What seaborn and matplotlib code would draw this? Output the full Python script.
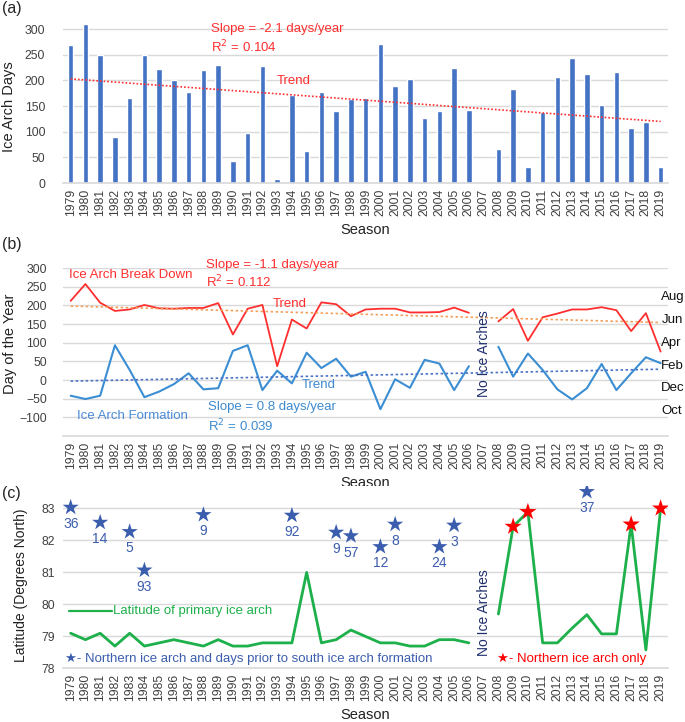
import numpy as np
import pandas as pd
import seaborn as sns
import matplotlib.pyplot as plt
from matplotlib.transforms import blended_transform_factory

# --------------------------- Data --------------------------- #
years = list(range(1979, 2020))

ice_arch_days = [270, 310, 250, 90, 165, 250, 223, 200, 177, 220,
                 230, 43, 98, 229, 8, 172, 63, 178, 140, 164,
                 165, 271, 190, 203, 127, 140, 224, 143, 0, 67,
                 184, 32, 138, 206, 243, 213, 152, 216, 108, 118, 31]

nan = np.nan
breakdown_day = [212, 257, 207, 185, 189, 201, 192, 191, 193, 193,
                 206, 122, 191, 201, 37, 162, 138, 208, 203, 171,
                 189, 191, 191, 181, 181, 182, 194, 180, nan, 157,
                 190, 105, 168, 178, 189, 189, 195, 187, 131, 179, 76]

formation_day = [-42, -51, -42, 93, 27, -46, -31, -11, 18, -25,
                 -22, 78, 93, -27, 25, -9, 73, 32, 57, 9,
                 22, -78, 2, -21, 54, 44, -27, 37, nan, 89,
                 9, 71, 27, -25, -52, -22, 43, -27, 18, 61, 45]

primary_lat = [79.1, 78.9, 79.1, 78.7, 79.1, 78.7, 78.8, 78.9, 78.8, 78.7,
               78.9, 78.7, 78.7, 78.8, 78.8, 78.8, 81.0, 78.8, 78.9, 79.2,
               79.0, 78.8, 78.8, 78.7, 78.7, 78.9, 78.9, 78.8, nan, 79.7,
               82.43, 82.89, 78.8, 78.8, 79.26, 79.68, 79.08, 79.08, 82.5, 78.58, 83.0]

north_years = [1979, 1981, 1983, 1984, 1988, 1994, 1997, 1998, 2000, 2001, 2004, 2005, 2014]
north_lat = [83.03, 82.56, 82.27, 81.07, 82.8, 82.78, 82.25, 82.14, 81.8, 82.5, 81.8, 82.47, 83.52]
north_days = [36, 14, 5, 93, 9, 92, 9, 57, 12, 8, 24, 3, 37]

north_only_years = [2009, 2010, 2017, 2019]

trend_years = [1979, 2019]
trend_days = [203, 120]
trend_breakdown = [198, 154]
trend_formation = [-3, 29]

month_names = ["Aug", "Jun", "Apr", "Feb", "Dec", "Oct"]
month_days = [222, 161, 98, 37, -22, -83]

# --------------------------- Style --------------------------- #
sns.set_theme(style="whitegrid")
plt.rcParams["font.family"] = ["Liberation Sans", "DejaVu Sans"]

RED = "#FF2E2E"
BLUE_LINE = "#3C8ED3"
BLUE_TXT = "#3D8AD0"
STAR_BLUE = "#3B5DAE"
GREEN = "#1DB04B"
NAVY = "#1F2F6E"
GRID = "#D9D9D9"
TICK = "#404040"

df = pd.DataFrame({"Season": years, "Days": ice_arch_days, "Breakdown": breakdown_day,
                   "Formation": formation_day, "Latitude": primary_lat})
pre = df[df["Season"] < 2007]
post = df[df["Season"] > 2007]

fig = plt.figure(figsize=(6.85, 7.22), dpi=100)
ax_a = fig.add_axes([0.0924, 0.7465, 0.8828, 0.2345])
ax_b = fig.add_axes([0.0924, 0.3961, 0.8828, 0.2327])
ax_c = fig.add_axes([0.0924, 0.0741, 0.8828, 0.2529])


def style_axis(ax):
    ax.set_xlim(1978.5, 2019.5)
    ax.set_xticks(years)
    ax.set_xticklabels([str(y) for y in years], rotation=90)
    ax.grid(axis="x", visible=False)
    ax.grid(axis="y", color=GRID, linewidth=1)
    for s in ["left", "right", "top"]:
        ax.spines[s].set_visible(False)
    ax.spines["bottom"].set_color(GRID)
    ax.spines["bottom"].set_linewidth(1.2)
    ax.tick_params(axis="both", length=0, colors=TICK, labelsize=8.8)
    ax.tick_params(axis="x", pad=4)
    ax.set_xlabel("Season", fontsize=10.5, color="#222222", labelpad=5)


# ----------------------- (a) bars ---------------------------- #
sns.barplot(data=df, x="Season", y="Days", native_scale=True, width=0.38,
            color="#4472C4", saturation=1, ax=ax_a)
sns.lineplot(x=trend_years, y=trend_days, ax=ax_a, color=RED, linewidth=1.2,
             linestyle=(0, (1, 1.2)))
style_axis(ax_a)
ax_a.set_ylim(0, 330)
ax_a.set_yticks(range(0, 301, 50))
ax_a.tick_params(axis="y", pad=13)
ax_a.set_ylabel("Ice Arch Days", fontsize=10.5, color="#222222")
ax_a.yaxis.set_label_coords(-0.078, 0.45)
ax_a.text(1988.5, 300, "Slope = -2.1 days/year", color=RED, fontsize=9.5, va="center")
ax_a.text(1988.5, 266, "R$^2$ = 0.104", color=RED, fontsize=9.5, va="center")
ax_a.text(1993.0, 198, "Trend", color=RED, fontsize=9.5, va="center")

# ----------------------- (b) lines --------------------------- #
for seg in [pre, post]:
    sns.lineplot(data=seg, x="Season", y="Breakdown", ax=ax_b, color=RED, linewidth=1.3)
    sns.lineplot(data=seg, x="Season", y="Formation", ax=ax_b, color=BLUE_LINE, linewidth=1.5)
sns.lineplot(x=trend_years, y=trend_breakdown, ax=ax_b, color="#F4A05A", linewidth=1.2,
             linestyle=(0, (1.5, 1.5)))
sns.lineplot(x=trend_years, y=trend_formation, ax=ax_b, color="#4A72C6", linewidth=1.2,
             linestyle=(0, (1.5, 1.5)))
style_axis(ax_b)
ax_b.set_ylim(-150, 300)
ax_b.set_yticks(range(-100, 301, 50))
ax_b.tick_params(axis="y", pad=12)
ax_b.set_ylabel("Day of the Year", fontsize=10.5, color="#222222")
ax_b.yaxis.set_label_coords(-0.076, 0.55)
ax_b.text(1978.9, 281, "Ice Arch Break Down", color=RED, fontsize=9.5, va="center")
ax_b.text(1988.2, 308, "Slope = -1.1 days/year", color=RED, fontsize=9.5, va="center")
ax_b.text(1988.2, 262, "R$^2$ = 0.112", color=RED, fontsize=9.5, va="center")
ax_b.text(1992.7, 203, "Trend", color=RED, fontsize=9.5, va="center")
ax_b.text(1994.7, -13, "Trend", color=BLUE_TXT, fontsize=9.5, va="center")
ax_b.text(1988.3, -72, "Slope = 0.8 days/year", color=BLUE_TXT, fontsize=9.5, va="center")
ax_b.text(1988.3, -123, "R$^2$ = 0.039", color=BLUE_TXT, fontsize=9.5, va="center")
ax_b.text(1979.4, -96, "Ice Arch Formation", color="#4A8BD6", fontsize=9.5, va="center")
ax_b.text(2007, 71, "No Ice Arches", color=NAVY, fontsize=10, rotation=90,
          ha="center", va="center")
trans = blended_transform_factory(ax_b.transAxes, ax_b.transData)
for name, d in zip(month_names, month_days):
    ax_b.text(0.989, d, name, transform=trans, fontsize=9.5, color="#111111",
              va="center", ha="left", clip_on=False)

# ----------------------- (c) latitude ------------------------ #
for seg in [pre, post]:
    sns.lineplot(data=seg, x="Season", y="Latitude", ax=ax_c, color=GREEN, linewidth=2)
sns.scatterplot(x=north_years, y=north_lat, ax=ax_c, marker="*", s=150,
                color=STAR_BLUE, edgecolor="none", zorder=5)
for yr, lat, d in zip(north_years, north_lat, north_days):
    ax_c.annotate(str(d), (yr, lat), xytext=(0, -12), textcoords="offset points",
                  ha="center", va="center", fontsize=10, color=STAR_BLUE)
north_only_lat = [primary_lat[years.index(y)] for y in north_only_years]
sns.scatterplot(x=north_only_years, y=north_only_lat, ax=ax_c, marker="*", s=170,
                color="#FF0000", edgecolor="none", zorder=5)
style_axis(ax_c)
ax_c.set_ylim(78, 83.7)
ax_c.set_yticks(range(78, 84))
ax_c.tick_params(axis="y", pad=6)
ax_c.set_ylabel("Latitude (Degrees North)", fontsize=10, color="#222222")
ax_c.yaxis.set_label_coords(-0.058, 0.455)
ax_c.plot([1978.9, 1981.8], [79.78, 79.78], color=GREEN, linewidth=1.6)
ax_c.text(1981.9, 79.78, "Latitude of primary ice arch", color=GREEN, fontsize=9.5, va="center")
ax_c.text(1978.6, 78.3, "★- Northern ice arch and days prior to south ice arch formation",
          color=STAR_BLUE, fontsize=9.5, va="center")
ax_c.text(2007.9, 78.3, "★- Northern ice arch only", color="#FF0000", fontsize=9.5, va="center")
ax_c.text(2007, 79.75, "No Ice Arches", color=NAVY, fontsize=10, rotation=90,
          ha="center", va="center")

# ----------------------- panel tags -------------------------- #
fig.text(0.003, 0.988, "(a)", fontsize=11.5, va="center")
fig.text(0.003, 0.662, "(b)", fontsize=11.5, va="center")
fig.text(0.003, 0.316, "(c)", fontsize=11.5, va="center")

fig.savefig("out.png", dpi=100)
plt.close(fig)
